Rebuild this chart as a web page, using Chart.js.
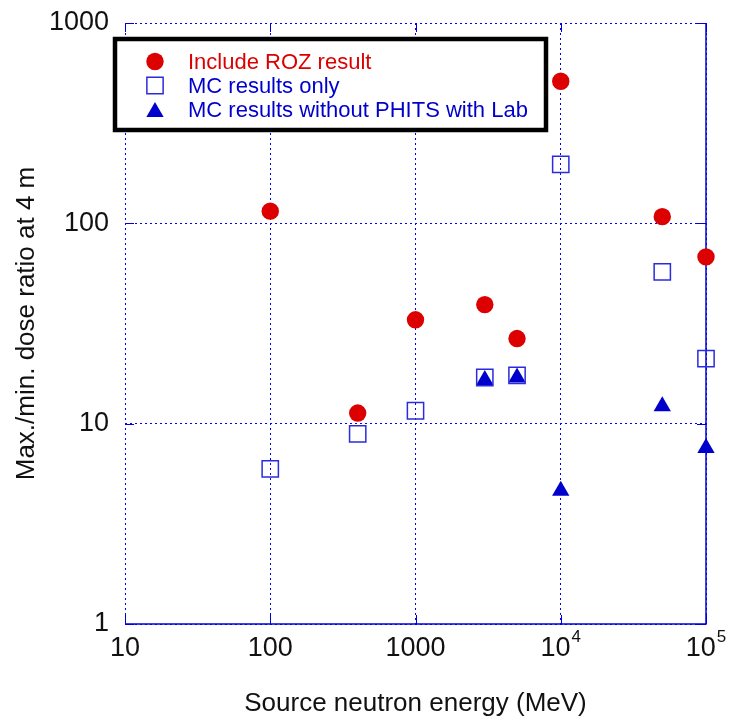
<!DOCTYPE html>
<html>
<head>
<meta charset="utf-8">
<script src="https://cdn.jsdelivr.net/npm/chart.js@4/dist/chart.umd.min.js"></script>
<style>
  html, body { margin:0; padding:0; background:#fff; }
  #wrap { width:732px; height:720px; position:relative; }
</style>
</head>
<body>
<div id="wrap"><canvas id="chart"></canvas></div>
<script>
// ── Data ──────────────────────────────────────────────────────────
const seriesLabels = ["Include ROZ result", "MC results only", "MC results without PHITS with Lab"];

const rozEnergy = [100, 400, 1000, 3000, 5000, 10000, 50000, 100000];
const rozRatio  = [115, 11.3, 33, 39.3, 26.6, 512, 108, 68];

const mcEnergy  = [100, 400, 1000, 3000, 5000, 10000, 50000, 100000];
const mcRatio   = [5.95, 8.9, 11.6, 17.0, 17.4, 197, 57.2, 21.1];

const labEnergy = [3000, 5000, 10000, 50000, 100000];
const labRatio  = [16.5, 17.0, 4.63, 12.2, 7.55];

const xTicks    = [10, 100, 1000, 10000, 100000];
const xTickMain = ["10", "100", "1000", "10", "10"];
const xTickSup  = ["", "", "", "4", "5"];
const yTicks    = [1, 10, 100, 1000];

const FONT  = "'Liberation Sans', Arial, Helvetica, sans-serif";
const RED   = "#dd0000";
const BLUE  = "#0000cc";
const GRID  = "#0000ff";

const pts = (xs, ys) => xs.map((x, i) => ({ x, y: ys[i] }));

// ── Plugin: borders, inward ticks, x labels with superscripts, legend box ──
const framePlugin = {
  id: "frame",
  beforeDatasetsDraw(chart) {
    const { ctx, chartArea: a, scales } = chart;
    ctx.save();
    // solid bottom + right border
    ctx.strokeStyle = "#0000dd";
    ctx.lineWidth = 1.5;
    ctx.beginPath();
    ctx.moveTo(a.left, a.bottom); ctx.lineTo(a.right, a.bottom); ctx.lineTo(a.right, a.top);
    ctx.stroke();

    // inward tick marks
    ctx.lineWidth = 1;
    const tl = 9;
    ctx.beginPath();
    yTicks.forEach(v => {
      const y = Math.round(scales.y.getPixelForValue(v)) + 0.5;
      ctx.moveTo(a.left, y);  ctx.lineTo(a.left + tl, y);
      ctx.moveTo(a.right, y); ctx.lineTo(a.right - tl, y);
    });
    xTicks.forEach(v => {
      const x = Math.round(scales.x.getPixelForValue(v)) + 0.5;
      ctx.moveTo(x, a.bottom); ctx.lineTo(x, a.bottom - tl);
      ctx.moveTo(x, a.top);    ctx.lineTo(x, a.top + tl);
    });
    ctx.stroke();
    ctx.restore();
  },
  afterDraw(chart) {
    const { ctx, scales } = chart;
    ctx.save();
    // x tick labels (10^4, 10^5 with superscripts)
    ctx.fillStyle = "#111";
    ctx.textBaseline = "alphabetic";
    ctx.textAlign = "left";
    xTicks.forEach((v, i) => {
      const px = scales.x.getPixelForValue(v);
      ctx.font = `27px ${FONT}`;
      const wMain = ctx.measureText(xTickMain[i]).width;
      ctx.font = `17px ${FONT}`;
      const wSup = xTickSup[i] ? ctx.measureText(xTickSup[i]).width + 1 : 0;
      const x0 = px - (wMain + wSup) / 2;
      ctx.font = `27px ${FONT}`;
      ctx.fillText(xTickMain[i], x0, 656);
      if (xTickSup[i]) {
        ctx.font = `17px ${FONT}`;
        ctx.fillText(xTickSup[i], x0 + wMain + 1, 642);
      }
    });

    // legend box
    const bx = 115, by = 39, bw = 431, bh = 91;
    ctx.fillStyle = "#fff";
    ctx.fillRect(bx, by, bw, bh);
    ctx.strokeStyle = "#000";
    ctx.lineWidth = 4.5;
    ctx.strokeRect(bx, by, bw, bh);

    const rows = [61.5, 85.5, 110];
    ctx.font = `22px ${FONT}`;
    ctx.textBaseline = "middle";
    chart.data.datasets.forEach((ds, i) => {
      const y = rows[i];
      ctx.save();
      ctx.fillStyle = ds.backgroundColor;
      ctx.strokeStyle = ds.borderColor;
      ctx.lineWidth = ds.borderWidth;
      Chart.helpers.drawPoint(ctx, {
        pointStyle: ds.pointStyle, radius: ds.pointRadius,
        rotation: 0, borderWidth: ds.borderWidth
      }, 155, i === 2 ? y + 2 : y);
      ctx.restore();
      ctx.fillStyle = i === 0 ? RED : BLUE;
      ctx.fillText(ds.label, 188, y + 1);
    });
    ctx.restore();
  }
};

// ── Chart ─────────────────────────────────────────────────────────
new Chart(document.getElementById("chart"), {
  type: "scatter",
  data: {
    datasets: [
      {
        label: seriesLabels[0],
        data: pts(rozEnergy, rozRatio),
        pointStyle: "circle",
        pointRadius: 8.7,
        backgroundColor: RED,
        borderColor: RED,
        borderWidth: 0,
        clip: false,
      },
      {
        label: seriesLabels[1],
        data: pts(mcEnergy, mcRatio),
        pointStyle: "rect",
        pointRadius: 11.5,
        backgroundColor: "rgba(255,255,255,0)",
        borderColor: "#2b2bdd",
        borderWidth: 1.5,
        clip: false,
      },
      {
        label: seriesLabels[2],
        data: pts(labEnergy, labRatio),
        pointStyle: "triangle",
        pointRadius: 10,
        backgroundColor: BLUE,
        borderColor: BLUE,
        borderWidth: 0,
        clip: false,
      },
    ]
  },
  options: {
    responsive: true, maintainAspectRatio: false,
    animation: false,
    events: [],
    layout: { padding: { top: 23, right: 26, left: 0, bottom: 0 } },
    plugins: { legend: { display: false }, tooltip: { enabled: false } },
    scales: {
      x: {
        type: "logarithmic", min: 10, max: 100000,
        afterBuildTicks: s => { s.ticks = xTicks.map(v => ({ value: v })); },
        afterFit: s => { s.height = 96; s.paddingLeft = 0; s.paddingRight = 0; },
        ticks: { display: false },
        grid: { color: GRID, lineWidth: 1, drawTicks: false },
        border: { display: false, dash: [2, 3] },
        title: {
          display: true, text: "Source neutron energy (MeV)",
          color: "#111", font: { family: FONT, size: 26 },
          padding: { top: 0, bottom: 1 }
        }
      },
      y: {
        type: "logarithmic", min: 1, max: 1000,
        afterBuildTicks: s => { s.ticks = yTicks.map(v => ({ value: v })); },
        afterFit: s => { s.width = 125; s.paddingTop = 0; s.paddingBottom = 0; },
        ticks: {
          color: "#111", font: { family: FONT, size: 27 }, padding: 16,
          autoSkip: false, callback: v => String(v)
        },
        grid: { color: GRID, lineWidth: 1, drawTicks: false },
        border: { display: false, dash: [2, 3] },
        title: {
          display: true, text: "Max./min. dose ratio at 4 m",
          color: "#111", font: { family: FONT, size: 26 },
          padding: { top: 11, bottom: 0 }
        }
      }
    }
  },
  plugins: [framePlugin]
});
</script>
</body>
</html>
